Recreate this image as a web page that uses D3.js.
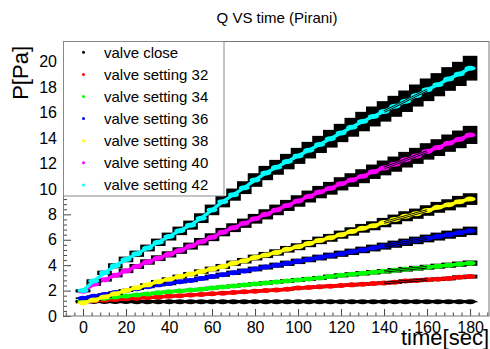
<!DOCTYPE html>
<html><head><meta charset="utf-8">
<script src="https://cdn.jsdelivr.net/npm/d3@7"></script>
<style>
body{margin:0;background:#fff}
svg{display:block}
text{font-family:"Liberation Sans",Arial,Helvetica,sans-serif;fill:#000}
</style>
</head><body>
<svg id="c" width="490" height="349"></svg>
<script>
// ---------------- data ----------------
const chartTitle = "Q VS time (Pirani)";
const xTitle = "time[sec]";
const yTitle = "P[Pa]";
const times = [0,5,10,15,20,25,30,35,40,45,50,55,60,65,70,75,80,85,90,95,100,105,110,115,120,125,130,135,140,145,150,155,160,165,170,175,180];
const seriesNames = ["valve close","valve setting 32","valve setting 34","valve setting 36","valve setting 38","valve setting 40","valve setting 42"];
const valveClose = [1.15,1.15,1.14,1.14,1.14,1.13,1.13,1.13,1.13,1.13,1.13,1.13,1.13,1.13,1.13,1.13,1.13,1.13,1.13,1.13,1.13,1.13,1.13,1.13,1.13,1.13,1.13,1.13,1.13,1.13,1.13,1.13,1.13,1.13,1.13,1.13,1.13];
const valve32 = [1.15,1.2,1.25,1.3,1.35,1.4,1.45,1.5,1.55,1.6,1.65,1.7,1.75,1.8,1.85,1.9,1.95,2.0,2.05,2.1,2.2,2.25,2.3,2.35,2.4,2.45,2.5,2.55,2.6,2.65,2.75,2.8,2.85,2.9,2.95,3.05,3.1];
const valve34 = [1.2,1.3,1.4,1.5,1.58,1.66,1.74,1.82,1.9,1.97,2.04,2.11,2.2,2.28,2.36,2.44,2.52,2.6,2.68,2.76,2.84,2.92,3.0,3.1,3.2,3.28,3.36,3.44,3.52,3.6,3.68,3.76,3.84,3.92,4.0,4.08,4.16];
const valve36 = [1.4,1.55,1.7,1.85,2.0,2.15,2.3,2.45,2.55,2.7,2.8,2.95,3.1,3.25,3.4,3.55,3.7,3.85,4.0,4.15,4.3,4.45,4.6,4.75,4.9,5.05,5.2,5.35,5.5,5.65,5.8,5.95,6.1,6.25,6.4,6.55,6.7];
const valve38 = [1.05,1.25,1.5,1.75,2.0,2.22,2.45,2.7,2.9,3.1,3.3,3.5,3.7,3.9,4.15,4.35,4.6,4.8,5.0,5.25,5.45,5.7,5.95,6.15,6.4,6.65,6.9,7.1,7.35,7.6,7.85,8.05,8.3,8.55,8.75,9.0,9.2];
const valve40 = [1.95,2.5,2.85,3.2,3.55,3.9,4.25,4.55,4.85,5.15,5.5,5.85,6.2,6.6,6.95,7.3,7.65,8.0,8.35,8.7,9.05,9.4,9.75,10.05,10.4,10.7,11.0,11.35,11.65,11.95,12.3,12.6,12.95,13.25,13.6,13.9,14.25];
const valve42 = [2.0,2.75,3.4,3.95,4.45,4.9,5.35,5.8,6.25,6.7,7.15,7.7,8.35,9.0,9.55,10.1,10.7,11.25,11.7,12.15,12.6,13.05,13.5,13.95,14.4,14.85,15.3,15.7,16.1,16.5,16.9,17.35,17.8,18.2,18.65,19.05,19.5];
const relativeError = 0.05;          // gauge accuracy used for the error boxes
const timeHalfWidth = 3.4;           // half width (s) of each error box
const fitRange = [140, 160];
const xTickValues = [0,20,40,60,80,100,120,140,160,180];
const yTickValues = [0,2,4,6,8,10,12,14,16,18,20];
const seriesColors = ["#000000","#ff0000","#00ff00","#0000ff","#ffff00","#ff00ff","#00ffff"];

const seriesValues = [valveClose, valve32, valve34, valve36, valve38, valve40, valve42];

// ---------------- layout ----------------
const L = 63, R = 489, T = 41.5, B = 316;
const x = d3.scaleLinear().domain([-9.3, 188.8]).range([L, R]);
const y = d3.scaleLinear().domain([0, 21.6]).range([B, T]);
const svg = d3.select("#c");

svg.append("rect").attr("x",0).attr("y",0).attr("width",490).attr("height",349).attr("fill","#fff");

// title
svg.append("text").attr("x",277).attr("y",23).attr("text-anchor","middle")
  .attr("font-size",15).text(chartTitle);

// axes
const xMinor = d3.range(-8, 189, 4).filter(v => v % 20 !== 0);
const yMinor = d3.range(0, 21.61, 0.4).map(v => +v.toFixed(1)).filter(v => Math.abs(v/2 - Math.round(v/2)) > 1e-6);

function styleAxis(g){
  g.select(".domain").remove();
  g.selectAll("line").attr("stroke","#444").attr("stroke-width",1);
  g.selectAll("text").attr("font-size",16).attr("fill","#000")
    .attr("font-family",'"Liberation Sans",Arial,Helvetica,sans-serif');
}
svg.append("g").attr("transform",`translate(0,${B})`)
  .call(d3.axisBottom(x).tickValues(xMinor).tickSize(-3.5).tickSizeOuter(0).tickFormat(""))
  .call(styleAxis);
svg.append("g").attr("transform",`translate(0,${B})`)
  .call(d3.axisBottom(x).tickValues(xTickValues).tickSize(-7).tickSizeOuter(0).tickPadding(6).tickFormat(d3.format("d")))
  .call(styleAxis);
svg.append("g").attr("transform",`translate(${L},0)`)
  .call(d3.axisLeft(y).tickValues(yMinor).tickSize(-4).tickSizeOuter(0).tickFormat(""))
  .call(styleAxis);
svg.append("g").attr("transform",`translate(${L},0)`)
  .call(d3.axisLeft(y).tickValues(yTickValues).tickSize(-8).tickSizeOuter(0).tickPadding(6).tickFormat(d3.format("d")))
  .call(styleAxis);

// frame
svg.append("rect").attr("x",L+0.5).attr("y",T).attr("width",R-L-0.5).attr("height",B-T)
  .attr("fill","none").attr("stroke","#777").attr("stroke-width",1);

// axis titles
svg.append("text").attr("x",R).attr("y",345).attr("text-anchor","end")
  .attr("font-size",22).text(xTitle);
svg.append("text").attr("transform","translate(28,46) rotate(-90)").attr("text-anchor","end")
  .attr("font-size",22).text(yTitle);

// series
const line = d3.line().x(d => x(d.t)).y(d => y(d.v));
const allSeries = seriesNames.map((name,i) => ({
  name, color: seriesColors[i],
  pts: times.map((t,j) => ({t, v: seriesValues[i][j]}))
}));

const plot = svg.append("g");
allSeries.forEach(s => {
  const g = plot.append("g");
  g.selectAll("rect").data(s.pts).join("rect")
    .attr("x", d => x(d.t - timeHalfWidth))
    .attr("width", d => x(d.t + timeHalfWidth) - x(d.t - timeHalfWidth))
    .attr("y", d => y(d.v * (1 + relativeError)))
    .attr("height", d => y(d.v * (1 - relativeError)) - y(d.v * (1 + relativeError)))
    .attr("fill", "#000");
  g.append("path").datum(s.pts).attr("d", line)
    .attr("fill","none").attr("stroke", s.color).attr("stroke-width",3.4).attr("stroke-linecap","round");
  g.selectAll("ellipse").data(s.pts).join("ellipse")
    .attr("cx", d => x(d.t)).attr("cy", d => y(d.v))
    .attr("rx", 5.5).attr("ry", 2.5).attr("fill", s.color);
});

// linear fits over fitRange
allSeries.slice(1).forEach(s => {
  const p = s.pts.filter(d => d.t >= fitRange[0] && d.t <= fitRange[1]);
  const mt = d3.mean(p, d => d.t), mv = d3.mean(p, d => d.v);
  const slope = d3.sum(p, d => (d.t-mt)*(d.v-mv)) / d3.sum(p, d => (d.t-mt)*(d.t-mt));
  const f = fitRange.map(t => ({t, v: mv + slope*(t-mt)}));
  plot.append("path").datum(f).attr("d", line).attr("stroke","#000").attr("stroke-width",2.6).attr("fill","none");
  plot.append("path").datum(f).attr("d", line).attr("stroke",s.color).attr("stroke-width",0.9).attr("fill","none");
});

// legend
const lg = svg.append("g");
lg.append("rect").attr("x",L+0.5).attr("y",T).attr("width",160.5).attr("height",154.5)
  .attr("fill","#fff").attr("stroke","#888").attr("stroke-width",1);
allSeries.forEach((s,i) => {
  const yy = 52.3 + i*22.1;
  lg.append("circle").attr("cx",83.5).attr("cy",yy).attr("r",1.5).attr("fill",s.color);
  lg.append("text").attr("x",104).attr("y",yy).attr("dy","0.36em").attr("font-size",15).text(s.name);
});
</script>
</body></html>
